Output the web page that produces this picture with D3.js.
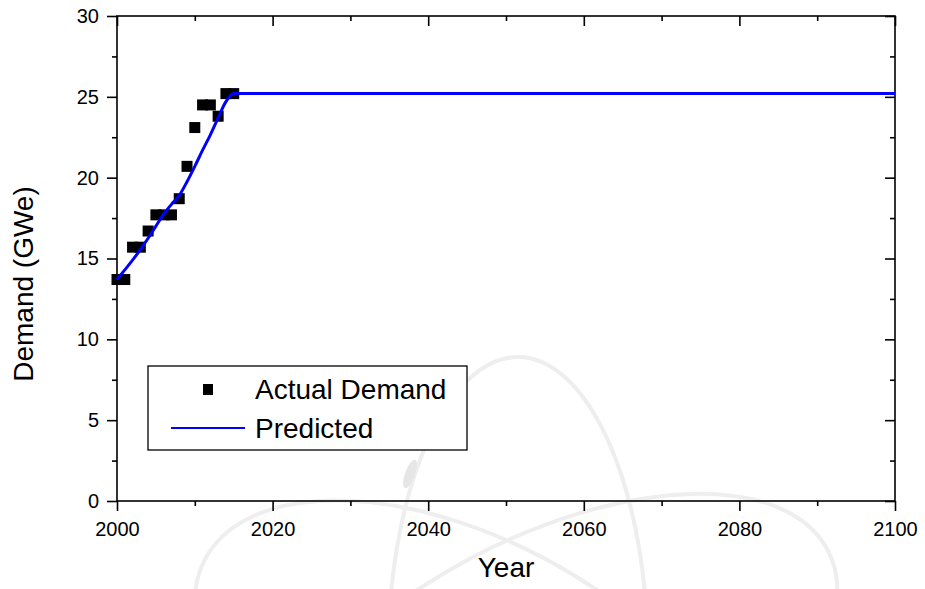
<!DOCTYPE html>
<html>
<head>
<meta charset="utf-8">
<script src="https://cdn.jsdelivr.net/npm/d3@7"></script>
<style>
  html, body { margin: 0; padding: 0; background: #fff; }
  svg { display: block; font-family: Arial, "Liberation Sans", sans-serif; }
  .tick text { font-size: 20px; fill: #000; }
  .tick line { stroke: #000; stroke-width: 1.6; }
  .domain { display: none; }
</style>
</head>
<body>
<div id="chart"></div>
<script>
// Measured demand (square markers), one per year 2000-2015.
const years = [2000, 2001, 2002, 2003, 2004, 2005, 2006, 2007, 2008, 2009, 2010, 2011, 2012, 2013, 2014, 2015];
const actualDemand = [13.7, 13.7, 15.7, 15.7, 16.7, 17.7, 17.7, 17.7, 18.7, 20.7, 23.1, 24.5, 24.5, 23.8, 25.2, 25.2];

// Predicted curve: rises until ~2015, then flat out to 2100.
const predYears = [2000, 2001, 2002, 2003, 2004, 2005, 2006, 2007, 2008, 2009, 2010, 2011, 2012, 2013, 2014, 2015, 2100];
const predicted = [13.7, 14.3, 14.9, 15.55, 16.25, 17.0, 17.75, 18.35, 18.9, 19.75, 20.7, 21.7, 22.65, 23.7, 24.7, 25.2, 25.2];

const xTicks = [2000, 2020, 2040, 2060, 2080, 2100];
const xMinor = [2010, 2030, 2050, 2070, 2090];
const yTicks = [0, 5, 10, 15, 20, 25, 30];
const yMinor = [2.5, 7.5, 12.5, 17.5, 22.5, 27.5];

const legendItems = ['Actual Demand', 'Predicted'];

const W = 925, H = 589;
const plot = { left: 117, right: 895, top: 16, bottom: 501 };

const svg = d3.select('#chart').append('svg').attr('width', W).attr('height', H);

const x = d3.scaleLinear().domain([2000, 2100]).range([plot.left, plot.right]);
const y = d3.scaleLinear().domain([0, 30]).range([plot.bottom, plot.top]);

// faint atom watermark behind the chart (decoration only)
const wm = svg.append('g').attr('fill', 'none').attr('stroke', '#eeeeee').attr('stroke-width', 4);
wm.append('ellipse').attr('cx', 518).attr('cy', 657).attr('rx', 130).attr('ry', 300);
wm.append('ellipse').attr('cx', 470).attr('cy', 700).attr('rx', 300).attr('ry', 160)
  .attr('transform', 'rotate(28,470,700)');
wm.append('ellipse').attr('cx', 545).attr('cy', 700).attr('rx', 320).attr('ry', 160)
  .attr('transform', 'rotate(-28,545,700)');
wm.append('ellipse').attr('cx', 410).attr('cy', 474).attr('rx', 5).attr('ry', 15)
  .attr('transform', 'rotate(20,410,474)').attr('fill', '#e6e6e6').attr('stroke', 'none');

// axes: major + minor ticks, outward on left/bottom, inward on top/right
function addAxis(axisFn, scale, values, size, transform, labels, padding) {
  const a = axisFn(scale).tickValues(values).tickSize(size).tickSizeOuter(0).tickPadding(padding || 0);
  a.tickFormat(labels ? d3.format('d') : '');
  return svg.append('g').attr('transform', transform).call(a);
}

addAxis(d3.axisBottom, x, xTicks, 10, `translate(0,${plot.bottom})`, true, 11);
addAxis(d3.axisBottom, x, xMinor, 5, `translate(0,${plot.bottom})`, false);
addAxis(d3.axisTop, x, xTicks, -10, `translate(0,${plot.top})`, false);
addAxis(d3.axisTop, x, xMinor, -5, `translate(0,${plot.top})`, false);

addAxis(d3.axisLeft, y, yTicks, 10, `translate(${plot.left},0)`, true, 8);
addAxis(d3.axisLeft, y, yMinor, 5, `translate(${plot.left},0)`, false);
addAxis(d3.axisRight, y, yTicks, -10, `translate(${plot.right},0)`, false);
addAxis(d3.axisRight, y, yMinor, -5, `translate(${plot.right},0)`, false);

svg.selectAll('.tick text').attr('font-family', 'Arial, "Liberation Sans", sans-serif');

// frame
svg.append('rect')
  .attr('x', plot.left).attr('y', plot.top)
  .attr('width', plot.right - plot.left).attr('height', plot.bottom - plot.top)
  .attr('fill', 'none').attr('stroke', '#000').attr('stroke-width', 1.6);

// actual demand squares
const sq = 11;
svg.append('g').selectAll('rect')
  .data(years.map((yr, i) => ({ yr, v: actualDemand[i] })))
  .join('rect')
  .attr('x', (d) => x(d.yr) - sq / 2)
  .attr('y', (d) => y(d.v) - sq / 2)
  .attr('width', sq).attr('height', sq)
  .attr('fill', '#000');

// predicted line
const line = d3.line()
  .x((d) => x(d.yr))
  .y((d) => y(d.v))
  .curve(d3.curveMonotoneX);
svg.append('path')
  .datum(predYears.map((yr, i) => ({ yr, v: predicted[i] })))
  .attr('d', line)
  .attr('fill', 'none')
  .attr('stroke', '#0000ff')
  .attr('stroke-width', 3);

// axis titles
svg.append('text')
  .attr('x', (plot.left + plot.right) / 2).attr('y', 577)
  .attr('text-anchor', 'middle').attr('font-size', 28)
  .text('Year');
svg.append('text')
  .attr('transform', 'translate(33,284) rotate(-90)')
  .attr('text-anchor', 'middle').attr('font-size', 28)
  .text('Demand (GWe)');

// legend
const lg = svg.append('g');
lg.append('rect')
  .attr('x', 148).attr('y', 366).attr('width', 319).attr('height', 84)
  .attr('fill', '#fff').attr('stroke', '#000').attr('stroke-width', 1.3);
lg.append('rect').attr('x', 203).attr('y', 384).attr('width', 10).attr('height', 11).attr('fill', '#000');
lg.append('line').attr('x1', 171).attr('x2', 245).attr('y1', 428).attr('y2', 428)
  .attr('stroke', '#0000ff').attr('stroke-width', 2);
lg.selectAll('text.lg')
  .data(legendItems)
  .join('text')
  .attr('class', 'lg')
  .attr('x', 255)
  .attr('y', (d, i) => 399 + i * 38.5)
  .attr('font-size', 28)
  .text((d) => d);
</script>
</body>
</html>
